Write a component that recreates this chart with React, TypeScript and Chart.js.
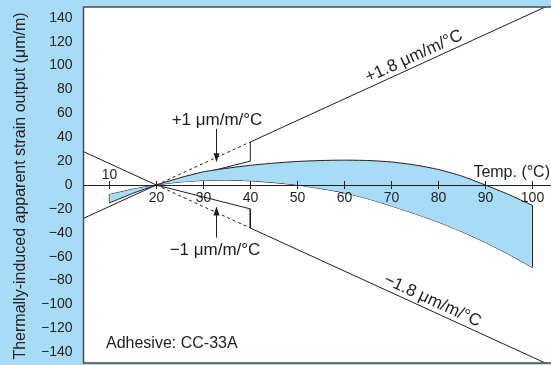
import React, { useEffect, useRef } from "react";
import { Chart, registerables } from "chart.js";

Chart.register(...registerables);

// ---- data ----
const TEMPS = [10, 15, 20, 25, 30, 35, 40, 45, 50, 55, 60, 65, 70, 75, 80, 85, 90, 95, 100];
const CURVE_HIGH = [-15, -7, 0, 6, 11, 14, 16.5, 18.3, 19.7, 20.5, 20.8, 20.5, 19.3, 16.8, 13, 7.5, 0, -8, -17];
const CURVE_LOW = [-8, -3.5, 0, 2.5, 3.8, 4, 3.5, 2, 0, -3, -6.5, -11.5, -17.5, -24, -31, -39, -48, -58, -69];

const POS_LINE_T = [4.5, 20, 40, 40, 104];
const POS_LINE_V = [-27.9, 0, 20, 36, 151.2];
const NEG_LINE_T = [4.5, 20, 40, 40, 104];
const NEG_LINE_V = [27.9, 0, -20, -36, -151.2];
const DASH_T = [20, 40];
const DASH_POS_V = [0, 36];
const DASH_NEG_V = [0, -36];

const X_TICKS = [10, 20, 30, 40, 50, 60, 70, 80, 90, 100];
const Y_TICKS = [140, 120, 100, 80, 60, 40, 20, 0, -20, -40, -60, -80, -100, -120, -140];

const X_MIN = 4.5;
const X_MAX = 104;
const Y_MIN = -149;
const Y_MAX = 149;

const SLOPE_HI = 1.8;
const SLOPE_LO = -1.8;

const BLUE = "#a8dcf6";
const INK = "#1e1e1e";
const FONT = "'Liberation Sans', Arial, Helvetica, sans-serif";

const pts = (xs: number[], ys: number[]) => xs.map((x, i) => ({ x, y: ys[i] }));

const bgPlugin = {
  id: "bgPlugin",
  beforeDraw(chart: any) {
    const { ctx, chartArea: a, width, height } = chart;
    ctx.save();
    ctx.fillStyle = BLUE;
    ctx.fillRect(0, 0, width, height);
    ctx.fillStyle = "#ffffff";
    ctx.fillRect(a.left, a.top, a.right - a.left, a.bottom - a.top);
    ctx.restore();
  },
};

function arrow(ctx: any, x: number, y1: number, y2: number) {
  const dir = y2 > y1 ? 1 : -1;
  ctx.beginPath();
  ctx.moveTo(x, y1);
  ctx.lineTo(x, y2 - dir * 6);
  ctx.stroke();
  ctx.beginPath();
  ctx.moveTo(x, y2);
  ctx.lineTo(x - 3, y2 - dir * 9);
  ctx.lineTo(x + 3, y2 - dir * 9);
  ctx.closePath();
  ctx.fill();
}

function slopeLabel(ctx: any, xs: any, ys: any, t: number, slope: number, text: string, off: number) {
  const x = xs.getPixelForValue(t);
  const y = ys.getPixelForValue(slope * (t - 20));
  const x2 = xs.getPixelForValue(t + 10);
  const y2 = ys.getPixelForValue(slope * (t + 10 - 20));
  const ang = Math.atan2(y2 - y, x2 - x);
  ctx.save();
  ctx.translate(x, y);
  ctx.rotate(ang);
  ctx.textAlign = "center";
  ctx.textBaseline = "alphabetic";
  ctx.fillText(text, 0, -off);
  ctx.restore();
}

const annoPlugin = {
  id: "annoPlugin",
  afterDatasetsDraw(chart: any) {
    const { ctx, chartArea: a } = chart;
    const xs = chart.scales.x;
    const ys = chart.scales.y;
    const y0 = ys.getPixelForValue(0);
    ctx.save();
    ctx.strokeStyle = INK;
    ctx.fillStyle = INK;
    ctx.lineWidth = 1;
    // horizontal axis at 0
    ctx.beginPath();
    ctx.moveTo(a.left, Math.round(y0) + 0.5);
    ctx.lineTo(a.right, Math.round(y0) + 0.5);
    ctx.stroke();
    ctx.font = `14px ${FONT}`;
    ctx.textAlign = "center";
    X_TICKS.forEach((t, i) => {
      const x = Math.round(xs.getPixelForValue(t)) + 0.5;
      ctx.beginPath();
      ctx.moveTo(x, y0 - 4);
      ctx.lineTo(x, y0 + 4);
      ctx.stroke();
      ctx.textBaseline = "alphabetic";
      if (i === 0) ctx.fillText(String(t), x, y0 - 6);
      else ctx.fillText(String(t), x, y0 + 17);
    });
    // Temp label
    ctx.font = `16px ${FONT}`;
    ctx.textAlign = "right";
    ctx.fillText("Temp. (°C)", a.right - 1, y0 - 8);

    // +1 / -1 labels and arrows
    const xa = xs.getPixelForValue(32.7);
    ctx.font = `17px ${FONT}`;
    ctx.textAlign = "center";
    ctx.fillText("+1 μm/m/°C", xa + 1, ys.getPixelForValue(50));
    ctx.fillText("\u22121 μm/m/°C", xa - 1, ys.getPixelForValue(-59));
    arrow(ctx, Math.round(xa) + 0.5, ys.getPixelForValue(47), ys.getPixelForValue(19));
    arrow(ctx, Math.round(xa) + 0.5, ys.getPixelForValue(-44), ys.getPixelForValue(-18));

    // slope labels
    ctx.font = `17px ${FONT}`;
    slopeLabel(ctx, xs, ys, 75.7, SLOPE_HI, "+1.8 μm/m/°C", 5);
    slopeLabel(ctx, xs, ys, 77.9, SLOPE_LO, "\u22121.8 μm/m/°C", 5);

    // adhesive
    ctx.font = `16px ${FONT}`;
    ctx.textAlign = "left";
    ctx.fillText("Adhesive: CC-33A", 106, 348);
    ctx.restore();
  },
  afterDraw(chart: any) {
    const { ctx, chartArea: a } = chart;
    ctx.save();
    ctx.strokeStyle = "#4a4a4a";
    ctx.lineWidth = 1.5;
    ctx.beginPath();
    ctx.moveTo(a.right + 2, a.top);
    ctx.lineTo(a.left, a.top);
    ctx.lineTo(a.left, a.bottom);
    ctx.lineTo(a.right + 2, a.bottom);
    ctx.stroke();
    // y title
    ctx.fillStyle = "#222";
    ctx.font = `16px ${FONT}`;
    ctx.translate(25, 186);
    ctx.rotate(-Math.PI / 2);
    ctx.textAlign = "center";
    ctx.textBaseline = "alphabetic";
    ctx.fillText("Thermally-induced apparent strain output (μm/m)", 0, 0);
    ctx.restore();
  },
};

export default function App() {
  const ref = useRef<HTMLCanvasElement | null>(null);
  useEffect(() => {
    if (!ref.current) return;
    const lineDs = (data: any[], extra: any = {}) => ({
      data,
      borderColor: INK,
      borderWidth: 1,
      pointRadius: 0,
      fill: false,
      tension: 0,
      ...extra,
    });
    const chart = new Chart(ref.current, {
      type: "line",
      data: {
        datasets: [
          lineDs(pts(TEMPS, CURVE_HIGH), { fill: "+1", backgroundColor: BLUE, tension: 0.2 }),
          lineDs(pts(TEMPS, CURVE_LOW), { tension: 0.2 }),
          lineDs([
            { x: TEMPS[0], y: CURVE_HIGH[0] },
            { x: TEMPS[0], y: CURVE_LOW[0] },
            { x: 55, y: null },
            { x: TEMPS[TEMPS.length - 1], y: CURVE_HIGH[CURVE_HIGH.length - 1] },
            { x: TEMPS[TEMPS.length - 1], y: CURVE_LOW[CURVE_LOW.length - 1] },
          ], { spanGaps: false }),
          lineDs(pts(POS_LINE_T, POS_LINE_V)),
          lineDs(pts(NEG_LINE_T, NEG_LINE_V)),
          lineDs(pts(DASH_T, DASH_POS_V), { borderDash: [3, 3] }),
          lineDs(pts(DASH_T, DASH_NEG_V), { borderDash: [3, 3] }),
        ],
      },
      options: {
        animation: false,
        responsive: false,
        events: [],
        layout: { padding: { left: 0, top: 7, right: 0, bottom: 2 } },
        plugins: { legend: { display: false }, tooltip: { enabled: false } },
        scales: {
          x: {
            type: "linear",
            min: X_MIN,
            max: X_MAX,
            display: false,
          },
          y: {
            type: "linear",
            min: Y_MIN,
            max: Y_MAX,
            grid: { display: false, drawTicks: false },
            border: { display: false },
            afterBuildTicks: (s: any) => {
              s.ticks = Y_TICKS.map((v) => ({ value: v }));
            },
            afterFit: (s: any) => {
              s.width = 83.5;
              s.paddingTop = 0;
              s.paddingBottom = 0;
            },
            ticks: {
              padding: 11,
              color: "#222",
              font: { family: FONT, size: 14 },
              callback: (v: any) => (Number(v) < 0 ? "\u2212" + Math.abs(Number(v)) : String(v)),
            },
          },
        },
      },
      plugins: [bgPlugin, annoPlugin],
    } as any);
    return () => chart.destroy();
  }, []);
  return (
    <div style={{ position: "absolute", left: 0, top: 0, width: 551, height: 365 }}>
      <canvas ref={ref} width={551} height={365} style={{ display: "block" }} />
    </div>
  );
}
